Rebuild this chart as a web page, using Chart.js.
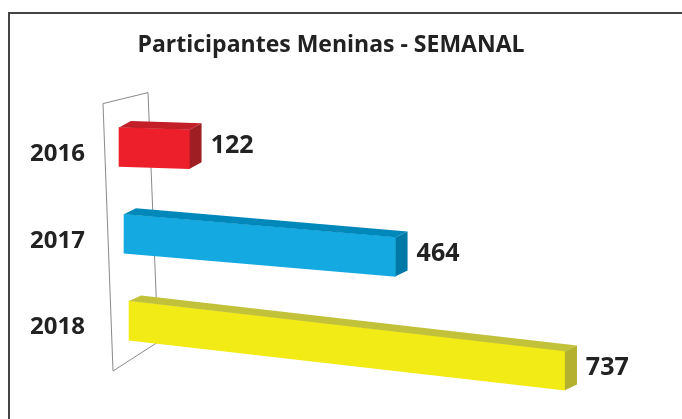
<!DOCTYPE html>
<html><head><meta charset="utf-8">
<script src="https://cdn.jsdelivr.net/npm/chart.js@4.4.0/dist/chart.umd.min.js"></script>
<style>html,body{margin:0;padding:0;background:#fff}#wrap{width:682px;height:419px;position:relative}</style>
</head><body><div id="wrap"><canvas id="c" width="682" height="419"></canvas></div>
<script>
const categories = ['2016', '2017', '2018'];
const values = [122, 464, 737];
const frontColors = ['#ED1F2A', '#14A9E1', '#F3EB15'];
const topColors = ['#C21F28', '#0088BA', '#C2C23A'];
const sideColors = ['#9E1E24', '#0079A6', '#B3B12E'];

const FONT = '"Open Sans", "DejaVu Sans", sans-serif';
const DX = 12, DY = 7;

// perspective helpers (per-bar skew derived from the bar's own position)
function persp(chart, p) {
  const a = chart.chartArea;
  const mid = (a.top + a.bottom) / 2;
  const x0 = chart.scales.x.getPixelForValue(0);
  const d = p.y - a.top - 43.5;
  const k = 0.032 + d * 0.000736 - d * d * 0.00000145;
  const sx = (p.y - mid) * 0.0575;
  const sc = 1 + (p.y - mid) * 0.00012;
  return { x0, k, sx, sc };
}

const framePlugin = {
  id: 'frame',
  beforeDraw(chart) {
    const ctx = chart.ctx;
    ctx.save();
    ctx.fillStyle = '#fff';
    ctx.fillRect(0, 0, chart.width, chart.height);
    ctx.strokeStyle = '#444';
    ctx.lineWidth = 2;
    ctx.beginPath();
    ctx.moveTo(9, chart.height);
    ctx.lineTo(9, 13);
    ctx.lineTo(chart.width, 13);
    ctx.stroke();
    const a = chart.chartArea;
    const x0 = chart.scales.x.getPixelForValue(0);
    ctx.strokeStyle = '#8a8a8a';
    ctx.lineWidth = 1;
    ctx.beginPath();
    ctx.moveTo(x0 - 21, a.top);
    ctx.lineTo(x0 + 24, a.top - 11);
    ctx.lineTo(x0 + 34, a.bottom - 22);
    ctx.lineTo(x0 - 11, a.bottom + 7);
    ctx.closePath();
    ctx.stroke();
    ctx.restore();
  }
};

const bar3dPlugin = {
  id: 'bar3d',
  beforeDatasetDraw() { return false; },
  afterDatasetsDraw(chart) {
    const ctx = chart.ctx;
    const meta = chart.getDatasetMeta(0);
    meta.data.forEach((bar, i) => {
      const p = bar.getProps(['x', 'y', 'base', 'height'], true);
      const t = persp(chart, p);
      ctx.save();
      ctx.translate(t.x0 + t.sx, 0);
      ctx.transform(t.sc, t.k, 0, 1, 0, 0);
      ctx.translate(-t.x0, 0);
      bar.draw(ctx);
      const top = p.y - p.height / 2, bottom = p.y + p.height / 2;
      ctx.fillStyle = topColors[i];
      ctx.beginPath();
      ctx.moveTo(p.base, top);
      ctx.lineTo(p.base + DX, top - DY);
      ctx.lineTo(p.x + DX, top - DY);
      ctx.lineTo(p.x, top);
      ctx.closePath();
      ctx.fill();
      ctx.fillStyle = sideColors[i];
      ctx.beginPath();
      ctx.moveTo(p.x, top);
      ctx.lineTo(p.x + DX, top - DY);
      ctx.lineTo(p.x + DX, bottom - DY);
      ctx.lineTo(p.x, bottom);
      ctx.closePath();
      ctx.fill();
      ctx.restore();
      // value label
      const ex = t.x0 + t.sx + t.sc * (p.x - t.x0) + DX + 9;
      const ey = p.y + t.k * (p.x - t.x0) - 3;
      ctx.save();
      ctx.fillStyle = '#222';
      ctx.font = 'bold 25px ' + FONT;
      ctx.textAlign = 'left';
      ctx.textBaseline = 'middle';
      ctx.fillText(String(values[i]), ex, ey);
      ctx.restore();
    });
  }
};

new Chart(document.getElementById('c'), {
  type: 'bar',
  data: {
    labels: categories,
    datasets: [{
      data: values,
      backgroundColor: frontColors,
      borderWidth: 0,
      barThickness: 39
    }]
  },
  options: {
    indexAxis: 'y',
    responsive: false,
    animation: false,
    layout: { padding: { top: 22, bottom: 55, left: 20, right: 40 } },
    plugins: {
      legend: { display: false },
      tooltip: { enabled: false },
      title: {
        display: true,
        text: 'Participantes Meninas - SEMANAL',
        color: '#222',
        font: { family: FONT, size: 23, weight: 'bold' },
        padding: { top: 10, bottom: 44 }
      }
    },
    scales: {
      x: { display: false, min: 0, max: 885 },
      y: {
        grid: { display: false, drawTicks: false },
        border: { display: false },
        ticks: {
          color: '#222',
          padding: 39,
          labelOffset: 7,
          font: { family: FONT, size: 24, weight: 'bold' }
        },
        afterFit(axis) { axis.width = 104; }
      }
    }
  },
  plugins: [framePlugin, bar3dPlugin]
});
</script></body></html>
